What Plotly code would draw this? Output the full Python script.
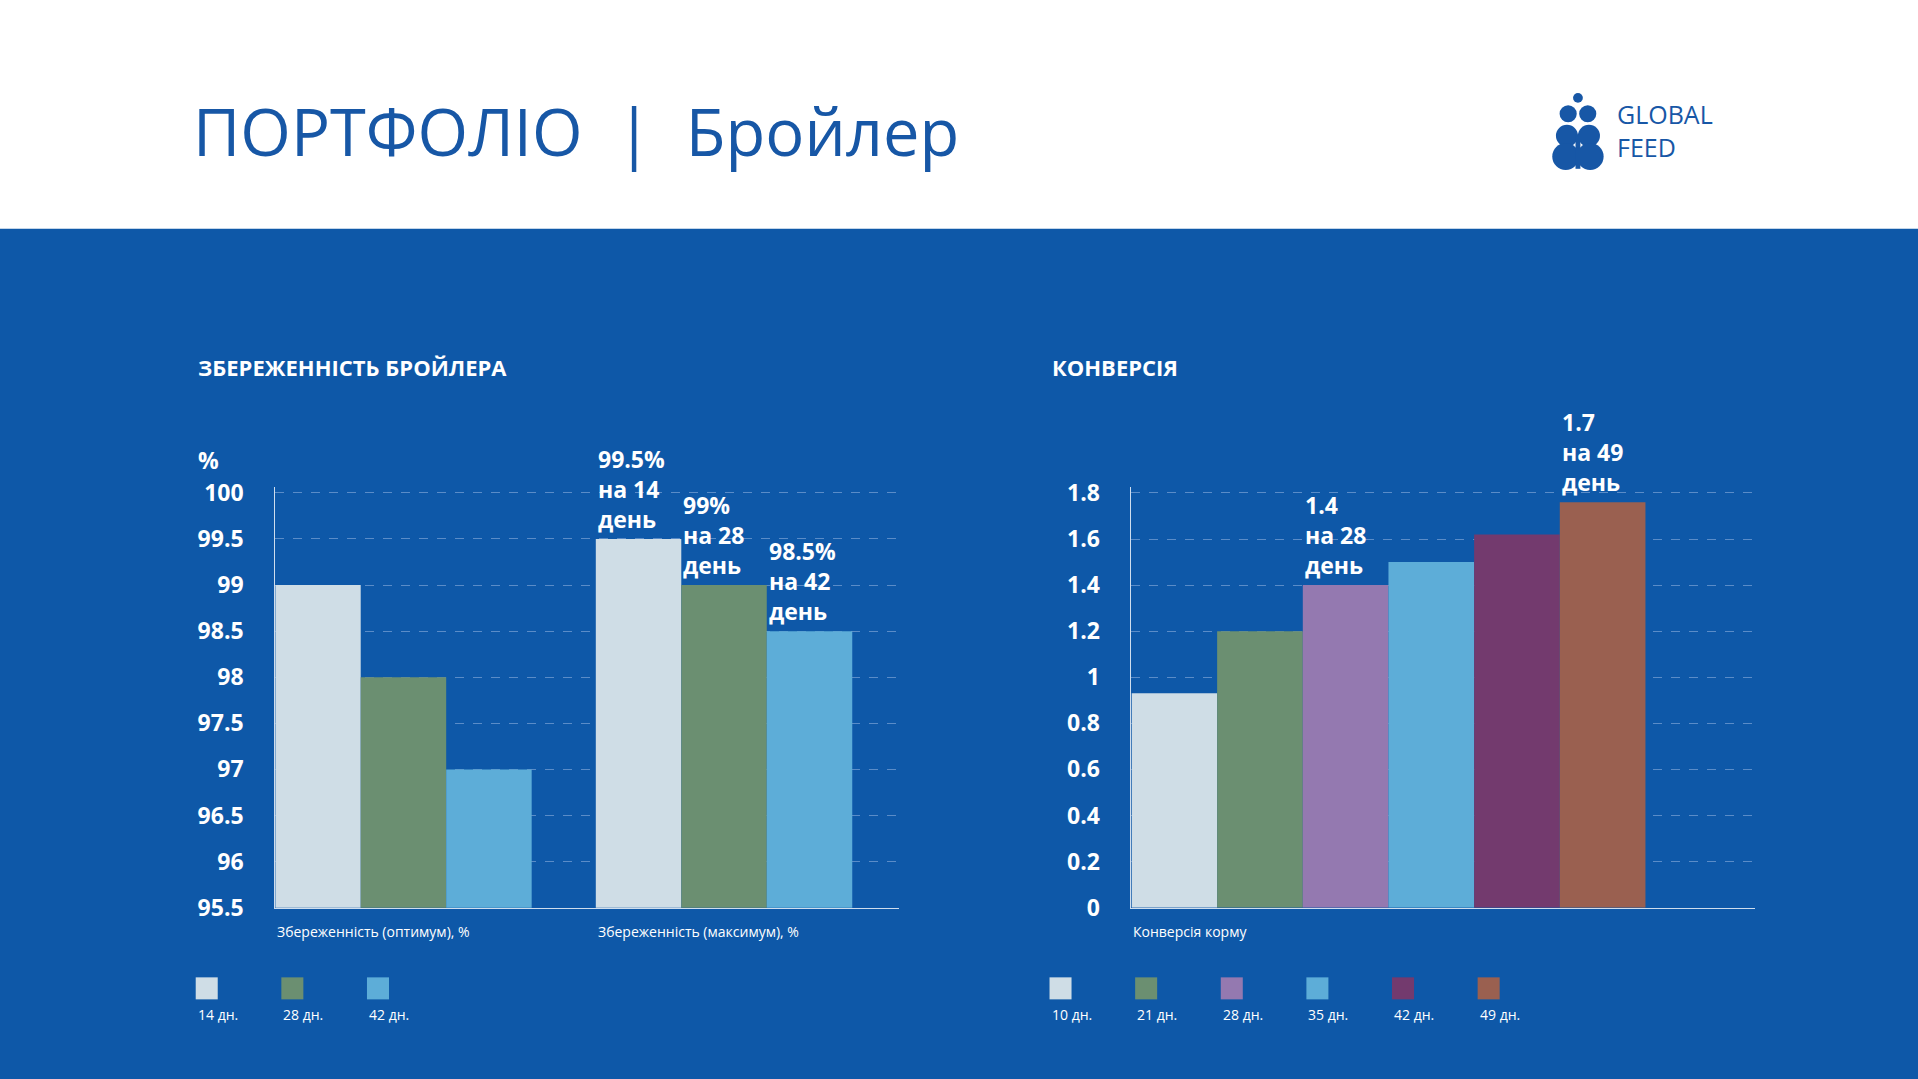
import plotly.graph_objects as go
from plotly.subplots import make_subplots

W, H = 1918, 1079
S = W / 1568  # reference was measured at 1568 px width


def px(x):
    return x * S / W


def py(y):
    return 1 - y * S / H


BG = "#0e58a8"
FONT = "Open Sans"

# data
groups = ["Збереженність (оптимум), %", "Збереженність (максимум), %"]
days_left = ["14 дн.", "28 дн.", "42 дн."]
surv = {"14 дн.": [99, 99.5], "28 дн.": [98, 99], "42 дн.": [97, 98.5]}
surv_labels = ["99.5%<br>на 14<br>день", "99%<br>на 28<br>день", "98.5%<br>на 42<br>день"]
colors_left = ["#cfdde6", "#6b8f71", "#5dadd8"]

conv_group = "Конверсія корму"
days_right = ["10 дн.", "21 дн.", "28 дн.", "35 дн.", "42 дн.", "49 дн."]
conv = [0.93, 1.2, 1.4, 1.5, 1.62, 1.76]
conv_labels = {2: "1.4<br>на 28<br>день", 5: "1.7<br>на 49<br>день"}
colors_right = ["#cfdde6", "#6b8f71", "#9479b0", "#5dadd8", "#733a6e", "#9a6050"]

BARGAP = 0.2

fig = make_subplots(1, 2)
for i, d in enumerate(days_left):
    fig.add_trace(go.Bar(x=[0, 1], y=surv[d], name=d, marker_color=colors_left[i],
                         marker_line_width=0, showlegend=False), 1, 1)
for i, d in enumerate(days_right):
    fig.add_trace(go.Bar(x=[0], y=[conv[i]], name=d, marker_color=colors_right[i],
                         marker_line_width=0, showlegend=False), 1, 2)

lab_font = dict(family=FONT, size=23, color="white", weight="bold")
bw_l = (1 - BARGAP) / 3
for i, t in enumerate(surv_labels):
    fig.add_annotation(x=1 - (1 - BARGAP) / 2 + i * bw_l, y=surv[days_left[i]][1], xref="x", yref="y",
                       text=t, showarrow=False, xanchor="left", yanchor="bottom", align="left",
                       font=lab_font, yshift=2)
bw_r = (1 - BARGAP) / 6
for i, t in conv_labels.items():
    fig.add_annotation(x=-(1 - BARGAP) / 2 + i * bw_r, y=conv[i], xref="x2", yref="y2",
                       text=t, showarrow=False, xanchor="left", yanchor="bottom", align="left",
                       font=lab_font, yshift=2)

# category labels under groups
for k, g in enumerate(groups):
    fig.add_annotation(x=k - (1 - BARGAP) / 2, y=py(752), xref="x", yref="paper", text=g,
                       showarrow=False, xanchor="left", yanchor="top",
                       font=dict(family=FONT, size=14, color="white"))
fig.add_annotation(x=-(1 - BARGAP) / 2, y=py(752), xref="x2", yref="paper", text=conv_group,
                   showarrow=False, xanchor="left", yanchor="top",
                   font=dict(family=FONT, size=14, color="white"))

ax_common = dict(showgrid=False, zeroline=False, showline=True, linecolor="rgba(255,255,255,0.8)",
                 linewidth=1, showticklabels=False, ticks="", fixedrange=True)
fig.update_xaxes(**ax_common)
fig.update_xaxes(domain=[px(225), px(735)], range=[-0.4, 1.546], row=1, col=1)
fig.update_xaxes(domain=[px(925), px(1435)], range=[-0.4, 0.571], row=1, col=2)

ay_common = dict(showgrid=True, gridcolor="#5a8cc8", griddash="dash", gridwidth=1, zeroline=False,
                 showline=True, linecolor="rgba(255,255,255,0.8)", linewidth=1, ticks="",
                 tickfont=dict(family=FONT, size=23, color="white", weight="bold"),
                 ticklabelstandoff=26, fixedrange=True)
fig.update_yaxes(**ay_common)
fig.update_yaxes(domain=[py(742), py(398)], range=[95.5, 100.066],
                 tickvals=[95.5, 96, 96.5, 97, 97.5, 98, 98.5, 99, 99.5, 100], row=1, col=1)
fig.update_yaxes(domain=[py(742), py(398)], range=[0, 1.8265],
                 tickvals=[0, 0.2, 0.4, 0.6, 0.8, 1, 1.2, 1.4, 1.6, 1.8],
                 ticktext=["0", "0.2", "0.4", "0.6", "0.8", "1", "1.2", "1.4", "1.6", "1.8"], row=1, col=2)

shapes = [dict(type="rect", xref="paper", yref="paper", x0=0, x1=1, y0=py(187), y1=1.05,
               fillcolor="white", line_width=0, layer="below")]

# legends: square above label
def legend(x0, names, cols):
    for i, (n, c) in enumerate(zip(names, cols)):
        x = x0 + i * 70
        shapes.append(dict(type="rect", xref="paper", yref="paper", x0=px(x), x1=px(x + 18),
                           y0=py(817), y1=py(799), fillcolor=c, line_width=0))
        fig.add_annotation(x=px(x), y=py(820), xref="paper", yref="paper", text=n, showarrow=False,
                           xanchor="left", yanchor="top", font=dict(family=FONT, size=14, color="white"))

legend(160, days_left, colors_left)
legend(858, days_right, colors_right)

# logo (simple wheat mark)
LOGO = "#1757a6"
for (cx, cy, r) in [(1290, 80, 4), (1282, 93, 7), (1298, 93, 7), (1281, 111, 9), (1299, 111, 9),
                    (1280, 128, 11), (1300, 128, 11)]:
    shapes.append(dict(type="circle", xref="paper", yref="paper", x0=px(cx - r), x1=px(cx + r),
                       y0=py(cy + r), y1=py(cy - r), fillcolor=LOGO, line_width=0))
shapes.append(dict(type="rect", xref="paper", yref="paper", x0=px(1288), x1=px(1292),
                   y0=py(138), y1=py(110), fillcolor=LOGO, line_width=0))
fig.add_annotation(x=px(1320), y=py(107), xref="paper", yref="paper", text="GLOBAL<br>FEED",
                   showarrow=False, xanchor="left", yanchor="middle", align="left",
                   font=dict(family=FONT, size=25, color=LOGO))

fig.add_annotation(x=px(156), y=py(107), xref="paper", yref="paper",
                   text="ПОРТФОЛІО  |  Бройлер", showarrow=False, xanchor="left", yanchor="middle",
                   font=dict(family=FONT, size=65, color="#1757a6", weight=500))
for x, t in [(160, "ЗБЕРЕЖЕННІСТЬ БРОЙЛЕРА"), (858, "КОНВЕРСІЯ")]:
    fig.add_annotation(x=px(x), y=py(300), xref="paper", yref="paper", text=t, showarrow=False,
                       xanchor="left", yanchor="middle",
                       font=dict(family=FONT, size=22, color="white", weight="bold"))
fig.add_annotation(x=px(160), y=py(376), xref="paper", yref="paper", text="%", showarrow=False,
                   xanchor="left", yanchor="middle", font=lab_font)

fig.update_layout(width=W, height=H, margin=dict(l=0, r=0, t=0, b=0, pad=0, autoexpand=False),
                  paper_bgcolor=BG, plot_bgcolor=BG, barmode="group", bargap=BARGAP, bargroupgap=0,
                  showlegend=False, shapes=shapes, font=dict(family=FONT))
fig.write_html("out.html", config={"displayModeBar": False},
               post_script="document.body.style.margin='0';document.body.style.overflow='hidden';")
